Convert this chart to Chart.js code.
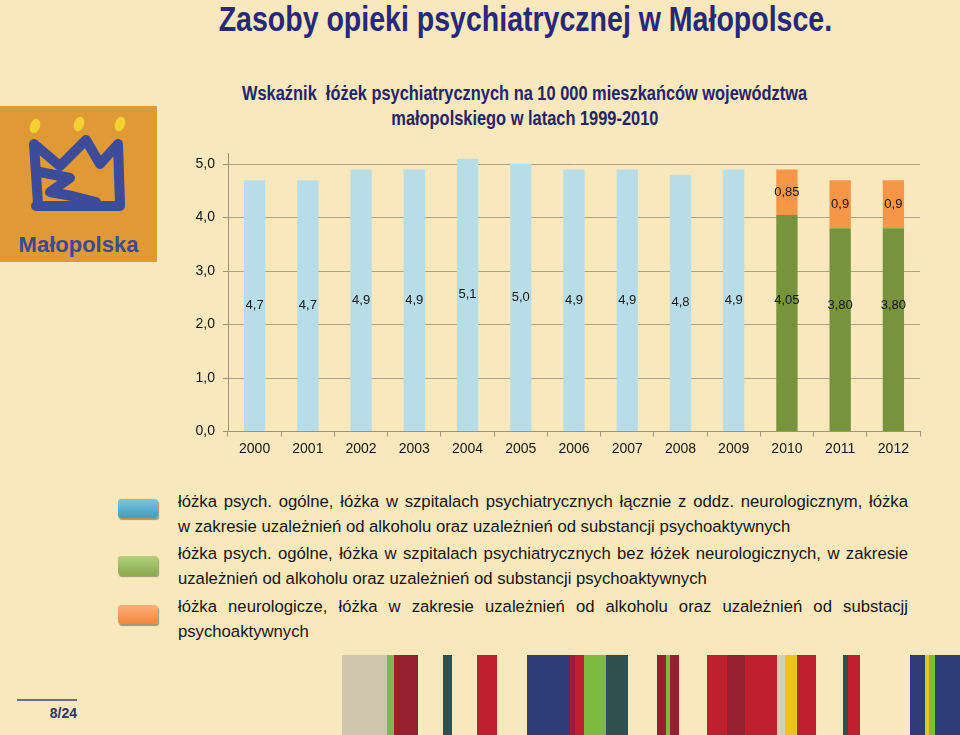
<!DOCTYPE html>
<html lang="pl">
<head>
<meta charset="utf-8">
<script src="https://cdn.jsdelivr.net/npm/chart.js@4/dist/chart.umd.min.js"></script>
<style>
  html,body{margin:0;padding:0;}
  body{width:960px;height:735px;background:#F8E8BC;position:relative;overflow:hidden;font-family:"Liberation Sans",Arial,sans-serif;}
  .abs{position:absolute;}
  .narrow{display:inline-block;transform-origin:50% 50%;white-space:nowrap;}
  #title{left:90px;width:870px;top:1px;text-align:center;font-family:"Liberation Sans",Arial,sans-serif;font-weight:bold;font-size:35px;line-height:35px;color:#28287A;white-space:nowrap;}
  #title .narrow{transform:scaleX(0.815);}
  #subtitle{left:90px;width:870px;top:81px;text-align:center;font-family:"Liberation Sans",Arial,sans-serif;font-weight:bold;font-size:20px;line-height:25px;color:#24246A;}
  #subtitle .narrow{transform:scaleX(0.82);}
  #chartWrap{left:180px;top:137px;width:760px;height:343px;}
  .legtext{left:178px;width:730px;font-size:16.7px;line-height:25px;color:#141414;}
  .legtext div{white-space:nowrap;}
  .legtext div.full{text-align:justify;text-align-last:justify;white-space:normal;}
  .sw{left:118px;width:40px;height:19px;border-radius:3px;box-shadow:1px 2px 1px rgba(0,0,0,0.35);}
  .stripe{top:655px;height:80px;}
  #pnum{left:17px;width:60px;top:699px;border-top:2px solid #6d6d80;text-align:right;font-weight:bold;font-size:14px;line-height:18px;padding-top:3px;color:#2F3462;}
</style>
</head>
<body>
<!-- logo -->
<div class="abs" style="left:0;top:106px;width:157px;height:156px;">
  <svg width="157" height="156" viewBox="0 0 157 156">
    <rect x="0" y="0" width="157" height="156" fill="#DF9A36"/>
    <ellipse cx="35" cy="20" rx="5" ry="7.5" fill="#F2D232" transform="rotate(20 35 20)"/>
    <ellipse cx="79" cy="18" rx="5" ry="7.5" fill="#F2D232" transform="rotate(20 79 18)"/>
    <ellipse cx="120" cy="18" rx="5" ry="7.5" fill="#F2D232" transform="rotate(20 120 18)"/>
    <path d="M38 98 L34 38 L60 60 L86 34 L100 58 L118 38 L120 98 M36 100 L120 100 M40 66 L70 72 L50 86 L72 90 L96 96" fill="none" stroke="#3C4C9A" stroke-width="10" stroke-linejoin="round" stroke-linecap="round"/>
    <text x="78.5" y="146" text-anchor="middle" font-family="'Liberation Sans',Arial,sans-serif" font-weight="bold" font-size="22" fill="#3A4A94">Małopolska</text>
  </svg>
</div>

<div id="title" class="abs"><span class="narrow">Zasoby opieki psychiatrycznej w Małopolsce.</span></div>
<div id="subtitle" class="abs"><span class="narrow">Wskaźnik&nbsp; łóżek psychiatrycznych na 10 000 mieszkańców województwa</span><br><span class="narrow">małopolskiego w latach 1999-2010</span></div>

<div id="chartWrap" class="abs"><canvas id="c" width="760" height="343"></canvas></div>

<!-- legend -->
<div class="abs sw" style="top:499px;background:linear-gradient(#7cc6dc,#3f9fbd);"></div>
<div class="abs sw" style="top:556px;background:linear-gradient(#b5d07c,#8aab4c);"></div>
<div class="abs sw" style="top:605px;background:linear-gradient(#fbb07a,#f0883c);"></div>
<div class="abs legtext" style="top:489px;">
  <div class="full">łóżka psych. ogólne, łóżka w szpitalach psychiatrycznych łącznie z oddz. neurologicznym, łóżka</div>
  <div>w zakresie uzależnień od alkoholu oraz uzależnień od substancji psychoaktywnych</div>
</div>
<div class="abs legtext" style="top:541px;">
  <div class="full">łóżka psych. ogólne, łóżka w szpitalach psychiatrycznych bez łóżek neurologicznych, w zakresie</div>
  <div>uzależnień od alkoholu oraz uzależnień od substancji psychoaktywnych</div>
</div>
<div class="abs legtext" style="top:594px;">
  <div class="full">łóżka neurologicze, łóżka w zakresie uzależnień od alkoholu oraz uzależnień od substacjj</div>
  <div>psychoaktywnych</div>
</div>

<div id="pnum" class="abs">8/24</div>

<!-- decorative stripes -->
<div class="abs stripe" style="left:342px;width:45px;background:#D0C6AE;"></div>
<div class="abs stripe" style="left:387px;width:7px;background:#7DBA42;"></div>
<div class="abs stripe" style="left:394px;width:24px;background:#952030;"></div>
<div class="abs stripe" style="left:443px;width:9px;background:#2F4F4D;"></div>
<div class="abs stripe" style="left:477px;width:20px;background:#C0202E;"></div>
<div class="abs stripe" style="left:527px;width:43px;background:#2E3C78;"></div>
<div class="abs stripe" style="left:570px;width:5px;background:#952030;"></div>
<div class="abs stripe" style="left:575px;width:9px;background:#C0202E;"></div>
<div class="abs stripe" style="left:584px;width:22px;background:#7DBA42;"></div>
<div class="abs stripe" style="left:606px;width:22px;background:#2F4F4D;"></div>
<div class="abs stripe" style="left:657px;width:9px;background:#952030;"></div>
<div class="abs stripe" style="left:666px;width:4px;background:#7DBA42;"></div>
<div class="abs stripe" style="left:670px;width:9px;background:#952030;"></div>
<div class="abs stripe" style="left:707px;width:20px;background:#C0202E;"></div>
<div class="abs stripe" style="left:727px;width:18px;background:#952030;"></div>
<div class="abs stripe" style="left:745px;width:32px;background:#C0202E;"></div>
<div class="abs stripe" style="left:777px;width:8px;background:#D8CFB3;"></div>
<div class="abs stripe" style="left:785px;width:12px;background:#E9C51E;"></div>
<div class="abs stripe" style="left:797px;width:19px;background:#C0202E;"></div>
<div class="abs stripe" style="left:843px;width:5px;background:#2F4F4D;"></div>
<div class="abs stripe" style="left:848px;width:12px;background:#C0202E;"></div>
<div class="abs stripe" style="left:910px;width:15px;background:#2E3C78;"></div>
<div class="abs stripe" style="left:925px;width:4px;background:#E9C51E;"></div>
<div class="abs stripe" style="left:929px;width:6px;background:#7DBA42;"></div>
<div class="abs stripe" style="left:935px;width:25px;background:#2E3C78;"></div>

<script>
// ---- data ----
const years = ['2000','2001','2002','2003','2004','2005','2006','2007','2008','2009','2010','2011','2012'];
const bedsTotal = [4.7, 4.7, 4.9, 4.9, 5.1, 5.0, 4.9, 4.9, 4.8, 4.9, null, null, null];
const bedsGeneral = [null, null, null, null, null, null, null, null, null, null, 4.05, 3.80, 3.80];
const bedsNeuroAddict = [null, null, null, null, null, null, null, null, null, null, 0.85, 0.9, 0.9];
const yTicks = [0, 1, 2, 3, 4, 5];

const axisColor = '#9C9482';
const gridColor = '#ADA38C';
const fontFam = '"Liberation Sans", Arial, sans-serif';

const fmt = (v, d) => (d == null ? String(v) : v.toFixed(d)).replace('.', ',');

const labelPlugin = {
  id: 'barLabels',
  afterDatasetsDraw(chart) {
    const ctx = chart.ctx, ys = chart.scales.y;
    ctx.save();
    ctx.font = '13px ' + fontFam;
    ctx.fillStyle = '#161616';
    ctx.textAlign = 'center';
    ctx.textBaseline = 'middle';
    chart.data.datasets.forEach((ds, di) => {
      const meta = chart.getDatasetMeta(di);
      meta.data.forEach((bar, i) => {
        const v = ds.data[i];
        if (v == null) return;
        let py;
        if (ds.labelMode === 'stackMid') {
          let tot = 0;
          chart.data.datasets.forEach(d => { if (d.data[i] != null) tot += d.data[i]; });
          py = ys.getPixelForValue(tot / 2);
        } else {
          py = (bar.y + bar.base) / 2;
        }
        ctx.fillText(fmt(v, ds.decimals), bar.x, py);
      });
    });
    ctx.restore();
  }
};

new Chart(document.getElementById('c'), {
  type: 'bar',
  data: {
    labels: years,
    datasets: [
      { label: 'łóżka psych. ogólne (łącznie)', data: bedsTotal, backgroundColor: '#B7DEE8', decimals: 1 },
      { label: 'łóżka psych. ogólne (bez neurol.)', data: bedsGeneral, backgroundColor: '#77933C', decimals: 2, labelMode: 'stackMid' },
      { label: 'łóżka neurologiczne i uzależnień', data: bedsNeuroAddict, backgroundColor: '#F79646', decimals: null }
    ]
  },
  options: {
    responsive: false,
    animation: false,
    events: [],
    layout: { padding: { left: 0, right: 20, top: 0, bottom: 0 } },
    datasets: { bar: { categoryPercentage: 1.0, barPercentage: 0.4, borderWidth: 0 } },
    plugins: { legend: { display: false }, tooltip: { enabled: false }, title: { display: false } },
    scales: {
      x: {
        stacked: true,
        grid: { display: true, drawOnChartArea: false, offset: true, tickLength: 5, color: axisColor, tickColor: axisColor },
        border: { display: true, color: axisColor },
        ticks: { font: { family: fontFam, size: 14 }, color: '#141414', padding: 4, maxRotation: 0 },
        afterFit(s) { s.height = 48.5; }
      },
      y: {
        stacked: true,
        min: 0,
        max: 5.2,
        afterBuildTicks(s) { s.ticks = yTicks.map(v => ({ value: v })); },
        grid: { color: gridColor, tickLength: 5, tickColor: axisColor, drawTicks: true },
        border: { display: true, color: axisColor },
        ticks: { font: { family: fontFam, size: 14 }, color: '#141414', padding: 8, callback: v => fmt(v, 1) },
        afterFit(s) { s.width = 48; }
      }
    }
  },
  plugins: [labelPlugin]
});
</script>
</body>
</html>
